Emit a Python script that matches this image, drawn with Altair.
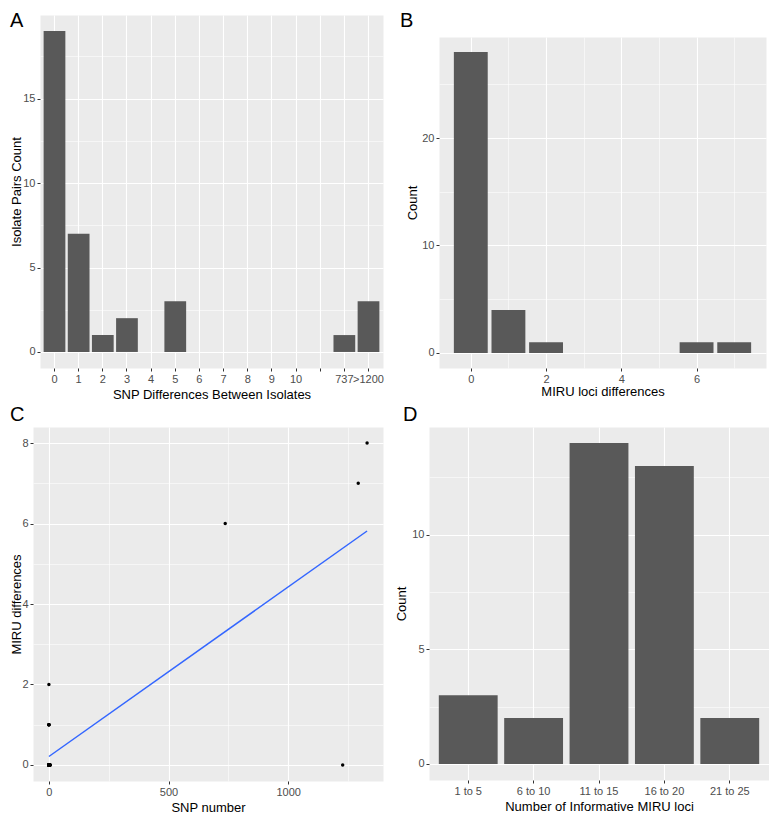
import altair as alt
import pandas as pd

FONT = "Liberation Sans"
BAR = "#595959"

# ---------------- data ----------------
# Panel A
snp_categories = ["0", "1", "2", "3", "4", "5", "6", "7", "8", "9", "10", " ", "737", ">1200"]
snp_pair_counts = [19, 7, 1, 2, 0, 3, 0, 0, 0, 0, 0, 0, 1, 3]

# Panel B
miru_diff_values = [0, 1, 2, 6, 7]
miru_diff_counts = [28, 4, 1, 1, 1]

# Panel C
snp_number = [0, 0, 0, 0, 0, 0, 0, 0, 0, 0, 0, 0, 0, 0, 0, 0, 0, 0, 0,
              1, 1, 1, 1, 1, 1, 1, 2, 3, 3, 5, 5, 5,
              737, 1228, 1293, 1330]
miru_differences = [0, 0, 0, 0, 0, 0, 0, 0, 0, 0, 0, 0, 0, 0, 1, 1, 1, 1, 2,
                    0, 0, 0, 0, 0, 0, 0, 0, 0, 0, 0, 0, 0,
                    6, 0, 7, 8]

# Panel D
informative_bins = ["1 to 5", "6 to 10", "11 to 15", "16 to 20", "21 to 25"]
informative_counts = [3, 2, 14, 13, 2]

# axis tick values (major + minor grid)
a_y_ticks = [0, 2.5, 5, 7.5, 10, 12.5, 15, 17.5]
b_x_ticks = [0, 1, 2, 3, 4, 5, 6, 7]
b_y_ticks = [0, 5, 10, 15, 20, 25]
c_x_ticks = [0, 250, 500, 750, 1000, 1250]
c_y_ticks = [0, 1, 2, 3, 4, 5, 6, 7, 8]
d_y_ticks = [0, 2.5, 5, 7.5, 10, 12.5]

HIDDEN = alt.ViewBackground(fillOpacity=0, strokeOpacity=0)


def cont_axis(values, major, title, **kw):
    minor_test = f"datum.value % {major} !== 0"
    return alt.Axis(
        values=values,
        title=title,
        grid=True,
        format="d",
        gridWidth={"condition": {"test": minor_test, "value": 0.55}, "value": 1.1},
        tickOpacity={"condition": {"test": minor_test, "value": 0}, "value": 1},
        labelExpr=f"datum.value % {major} === 0 ? datum.label : ''",
        labelOverlap=False,
        labelFlush=False,
        **kw,
    )


def band_axis(title, **kw):
    return alt.Axis(title=title, grid=True, gridWidth=1.1, labelAngle=0,
                    labelOverlap=False, labelFlush=False, **kw)


def letter(txt, dx, dy):
    return alt.Chart(pd.DataFrame({"t": [txt]})).mark_text(
        align="left", baseline="top", fontSize=20, font=FONT, color="black"
    ).encode(text="t:N", x=alt.value(dx), y=alt.value(dy))


def spacer(w, h):
    return alt.Chart(pd.DataFrame({"v": [0]})).mark_point(opacity=0, size=1).encode(
        x=alt.value(0), y=alt.value(0)
    ).properties(width=w, height=h, view=HIDDEN)


# ---------------- Panel A ----------------
dfA = pd.DataFrame({"cat": snp_categories, "count": snp_pair_counts})
barsA = alt.Chart(dfA).mark_bar(color=BAR).encode(
    x=alt.X("cat:N", sort=snp_categories,
            scale=alt.Scale(domain=snp_categories, paddingInner=0.1, paddingOuter=0.15),
            axis=band_axis("SNP Differences Between Isolates", titlePadding=4)),
    y=alt.Y("count:Q", scale=alt.Scale(domain=[-0.95, 19.95], nice=False, zero=False),
            axis=cont_axis(a_y_ticks, 5, "Isolate Pairs Count", titleX=-30, titleBaseline="top")),
    y2=alt.datum(0),
)
panelA = alt.layer(barsA, letter("A", -30, -4)).properties(width=343, height=353)

# ---------------- Panel B ----------------
dfB = pd.DataFrame({"miru": miru_diff_values, "count": miru_diff_counts})
panelB = alt.Chart(dfB).transform_calculate(
    lo="datum.miru - 0.45", hi="datum.miru + 0.45", zero="0"
).mark_rect(color=BAR).encode(
    x=alt.X("lo:Q", scale=alt.Scale(domain=[-0.845, 7.845], nice=False, zero=False),
            axis=cont_axis(b_x_ticks, 2, "MIRU loci differences", titlePadding=1)),
    x2="hi:Q",
    y=alt.Y("count:Q", scale=alt.Scale(domain=[-1.4, 29.4], nice=False, zero=False),
            axis=cont_axis(b_y_ticks, 10, "Count", titlePadding=2)),
    y2="zero:Q",
).properties(width=327, height=331)

# letter B sits in its own (invisible) strip above panel B
stripB = letter("B", -39, -4).properties(width=327, height=20, view=HIDDEN)

# ---------------- Panel C ----------------
dfC = pd.DataFrame({"snp": snp_number, "miru": miru_differences})
baseC = alt.Chart(dfC)
pointsC = baseC.mark_circle(color="black", size=12, opacity=1).encode(
    x=alt.X("snp:Q", scale=alt.Scale(domain=[-66.5, 1396.5], nice=False, zero=False),
            axis=cont_axis(c_x_ticks, 500, "SNP number", titlePadding=4)),
    y=alt.Y("miru:Q", scale=alt.Scale(domain=[-0.4, 8.4], nice=False, zero=False),
            axis=cont_axis(c_y_ticks, 2, "MIRU differences", titleX=-23, titleBaseline="top")),
)
lineC = baseC.transform_regression("snp", "miru").mark_line(
    color="#3366FF", strokeWidth=1.5
).encode(x="snp:Q", y="miru:Q")
panelC = alt.layer(lineC, pointsC, letter("C", -23, -22)).properties(width=350, height=354)

# ---------------- Panel D ----------------
dfD = pd.DataFrame({"bin": informative_bins, "count": informative_counts})
barsD = alt.Chart(dfD).mark_bar(color=BAR).encode(
    x=alt.X("bin:N", sort=informative_bins,
            scale=alt.Scale(domain=informative_bins, paddingInner=0.1, paddingOuter=0.15),
            axis=band_axis("Number of Informative MIRU loci", titlePadding=4)),
    y=alt.Y("count:Q", scale=alt.Scale(domain=[-0.7, 14.7], nice=False, zero=False),
            axis=cont_axis(d_y_ticks, 5, "Count", titlePadding=3)),
    y2=alt.datum(0),
)
panelD = alt.layer(barsD, letter("D", -26, -22)).properties(width=340, height=353)

# ---------------- layout ----------------
colB = alt.vconcat(stripB, panelB, spacing=2)
innerTop = alt.hconcat(panelA, colB, spacing=16)
row1 = alt.hconcat(spacer(1, 1), innerTop, spacing=0)
innerBottom = alt.hconcat(panelC, panelD, spacing=12)
row2 = alt.hconcat(spacer(1, 1), innerBottom, spacing=0)

chart = alt.vconcat(row1, row2, spacing=4).properties(
    padding={"top": 3, "left": 0, "right": 0, "bottom": 0}, background="white"
).configure_view(
    fill="#EBEBEB", strokeOpacity=0
).configure_axis(
    domain=False,
    tickColor="#333333",
    tickSize=3,
    tickWidth=1,
    labelColor="#4D4D4D",
    labelFontSize=11,
    labelFont=FONT,
    labelPadding=2,
    titleFont=FONT,
    titleFontSize=13,
    titleFontWeight="normal",
    titleColor="black",
    gridColor="white",
)

chart.save("out.html", embed_options={"renderer": "svg", "actions": False})
